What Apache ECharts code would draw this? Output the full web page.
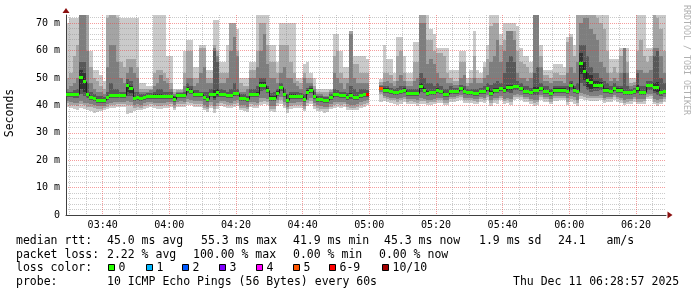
<!DOCTYPE html>
<html><head><meta charset="utf-8">
<script src="https://cdn.jsdelivr.net/npm/echarts@6/dist/echarts.min.js"></script>
<style>html,body{margin:0;padding:0;background:#fff}#c{width:697px;height:297px}</style>
</head><body><div id="c"></div>
<script>
// time axis in minutes after 03:00; first column starts 03:29, one column per minute
const startMinute = 29;
const axisMin = 29, axisMax = 209;
const xTickMinutes = [40, 60, 80, 100, 120, 140, 160, 180, 200];
const xTickLabels = ['03:40','04:00','04:20','04:40','05:00','05:20','05:40','06:00','06:20'];
const yTickValues = [0, 10, 20, 30, 40, 50, 60, 70];
const yTickLabels = ['0','10 m','20 m','30 m','40 m','50 m','60 m','70 m'];

// median RTT (ms) per minute
const median = [
44,44,44,44,50.3,49,44,43.2,42.8,42,
42,42,43,43.7,43.7,43.7,43.7,43.7,47.6,46.4,
42.6,43,42.6,43,43.5,43.5,43.5,43.5,43.5,43.5,
43.5,43.5,42.5,43.7,43.7,43.7,46.1,45.4,44.2,44.2,
44.2,43,42.3,44,44,45,44.2,44.2,43.7,43.7,
44.5,44.5,42.8,42.8,42.2,44.2,44.2,44.2,47.6,47.6,
45.8,42.8,42.8,44.6,46.6,44.2,41.9,43.6,43.6,43.6,
43.6,42.3,45,45.8,43.4,42.3,42.3,41.9,41.9,43,
44,44,43.7,43.7,43,43.7,43,43,43.7,44.2,
44.2,null,null,null,46.4,45.8,45.8,45.4,44.9,44.9,
45.4,45.8,44.6,44.6,44.6,44.6,47,45.8,44.6,44.9,
44.9,45.8,45.2,44.2,44.2,45.2,45.2,45.4,46.4,45.4,
44.9,44.9,44.6,44.6,45.2,45.2,46.4,44.6,45.8,45.8,
46.4,45.8,46.6,46.6,47,47,46.4,45.4,45.4,44.9,
45.8,45.8,46.4,45.4,45.4,44.6,45.8,45.8,45.8,45.8,
45.4,47.3,45.8,45.2,55.3,52.6,49.4,48.5,47.6,47.6,
47.6,45.8,45.8,45.4,46.4,45.8,45.8,44.9,44.9,44.9,
45.4,46.4,44.9,44.9,47.3,47.3,46.6,46.6,44.9,45.3];

// sorted ping RTTs (ms): ping1 = fastest ... ping10 = slowest
const ping1 = [
39.6,39,38.8,38.4,39,38.6,38.2,37.8,37.4,37.6,
38,38.2,38.6,39,39.2,39.4,39.6,39.4,37,37.4,
38,38.4,38.2,38.8,39.2,39.4,39,38.8,38.6,39,
39.2,39.4,38.2,39.4,39.6,39.4,40.2,40,39.6,39.6,
39.6,38.2,37.6,39.2,37.4,38.8,39.8,39.6,39.2,39,
39.6,39.8,38.2,38,37.6,39.4,39.2,39,40.2,40.4,
40,37.8,37.6,39.8,40.6,39.2,37.4,38.8,39,39.2,
39.2,37.8,39.8,40.6,38.8,38,37.8,37.4,37.6,38.6,
39.2,39.4,39.2,39.4,38.4,38.2,38.2,38.4,39.2,39.6,
40,null,null,null,41.2,41.6,41.4,41,40.6,40.2,
40.6,41.2,40.4,40.6,40.4,39.8,40.4,40.6,40,40.2,
40.4,41,40.8,40,40,41.2,41.4,41.6,42,41,
40.8,40.8,40.6,40.4,41.2,41,42,39.8,40.8,40.6,
41.8,40.6,41,40.2,42,42.2,42,41.2,41.2,40.6,
39.8,40,42,41.2,41.2,40.4,41.6,41.6,41.8,41.8,
40,41.2,40.6,39.8,42.4,42,41.8,41.6,41.6,41.6,
41.8,41,41.4,41.2,42,41.4,40.8,40,40.4,40.6,
41.2,40.4,40.4,40.6,42.2,42.4,40.4,39.8,40.4,41.2];
const ping2 = [
40.8,40.2,40,39.8,40.4,40,39.6,39.4,39,38.6,
38.8,39,39.6,40,40.2,40.4,40.6,40.4,40.2,40,
39.2,39.4,39.2,39.8,40.2,40.4,40,39.8,39.8,40,
40.2,40.4,39.2,40.4,40.6,40.6,41.2,41,40.6,40.6,
40.6,39.2,38.6,40.2,38.6,39.8,40.8,40.6,40.2,40,
40.6,40.8,39.2,39,38.6,40.4,40.2,40,41.4,41.6,
41.2,38.8,38.8,40.8,41.8,40.2,38.6,39.8,40,40.2,
40.2,38.8,40.8,41.6,39.8,39,38.8,38.6,38.6,39.6,
40.2,40.4,40.2,40.4,39.4,39.2,39.2,39.4,40.2,40.6,
41,null,null,null,44,42.6,42.4,42,41.8,41.4,
41.8,42.2,41.4,41.6,41.4,41,41.6,41.6,41,41.2,
41.4,42,41.8,41,41,42.2,42.4,42.6,43,42,
41.8,41.8,41.6,41.4,42.2,42,43,41,42,41.8,
42.8,41.6,42,41.4,43,43.2,43,42.2,42.2,41.6,
41,41.2,43,42.2,42.2,41.4,42.6,42.6,42.8,42.8,
41.4,42.4,42,41,43.4,43,42.8,42.6,42.6,42.6,
42.8,42,42.4,42.2,43,42.4,41.8,41,41.4,41.6,
42.2,41.4,41.4,41.6,43.2,43.4,41.4,40.8,41.4,42.2];
const ping3 = [
41.6,41.2,41,40.8,41.6,41,40.8,40.6,40.2,39.8,
39.8,39.8,40.6,41,41.2,41.4,41.4,41.4,41.6,41.2,
40.2,40.4,40.2,40.8,41.2,41.4,41,40.8,40.8,41,
41.2,41.2,40.2,41.4,41.6,41.4,42.4,42,41.6,41.6,
41.6,40.2,39.6,41.2,39.8,40.8,41.6,41.6,41.2,41,
41.6,41.8,40.2,40,39.6,41.4,41.2,41,42.6,42.8,
42.4,39.8,39.8,41.8,43,41.2,39.6,40.8,41,41.2,
41.2,39.8,41.8,42.6,40.8,40,39.8,39.6,39.6,40.6,
41.2,41.4,41.2,41.4,40.4,40.2,40.2,40.4,41.2,41.6,
42,null,null,null,45,43.4,43.2,42.8,42.6,42.2,
42.6,43,42.2,42.4,42.2,42,42.6,42.4,41.8,42,
42.2,42.8,42.6,41.8,41.8,43,43.2,43.4,43.8,42.8,
42.6,42.6,42.4,42.2,43,42.8,43.8,41.8,42.8,42.6,
43.6,42.4,42.8,42.2,43.8,44,43.8,43,43,42.4,
41.8,42,43.8,43,43,42.2,43.4,43.4,43.6,43.6,
42.6,43.6,43.2,42,44.6,44,43.8,43.6,43.6,43.6,
43.8,42.8,43.2,43,43.8,43.2,42.6,41.8,42.2,42.4,
43,42.4,42.2,42.4,44,44.2,42.4,41.8,42.2,43];
const ping4 = [
42.9,42.9,42.8,42.7,44,43.5,42.8,42.1,41.7,40.9,
40.9,40.9,41.9,42.6,42.6,42.6,42.6,42.6,43.5,43.4,
41.5,41.9,41.5,41.9,42.4,42.4,42.4,42.3,42.3,42.4,
42.4,42.4,41.4,42.6,42.6,42.6,44.6,44.2,43.1,43.1,
43.1,41.9,41.2,42.9,41.8,42.9,43.1,43.1,42.6,42.6,
43.4,43.4,41.7,41.7,41.1,43.1,43.1,43,45.4,45.6,
44.6,41.7,41.7,43.5,45.4,43.1,40.8,42.5,42.5,42.5,
42.5,41.2,43.8,44.6,42.3,41.2,41.2,40.8,40.8,41.9,
42.9,42.9,42.6,42.6,41.9,42.4,41.9,41.9,42.6,43.1,
43.1,null,null,null,45.6,44.7,44.7,44.3,43.8,43.8,
44.3,44.7,43.5,43.5,43.5,43.5,45,44.5,43.4,43.8,
43.8,44.6,44.1,43.1,43.1,44.1,44.1,44.3,45.2,44.3,
43.8,43.8,43.5,43.5,44.1,44.1,45.2,43.4,44.6,44.5,
45.2,44.5,45,44.6,45.6,45.8,45.2,44.3,44.3,43.8,
43.8,43.9,45.2,44.3,44.3,43.5,44.7,44.7,44.7,44.7,
44.3,45.6,44.7,44.1,48,47,45.6,45,45.2,45.2,
45.6,44.7,44.7,44.3,45.2,44.7,44.5,43.7,43.8,43.8,
44.3,44.6,43.8,43.8,45.8,45.8,44.4,43.8,43.6,44.2];
const ping5 = [
43.6,43.6,43.6,43.5,46,45,43.5,42.8,42.4,41.6,
41.6,41.6,42.6,43.3,43.3,43.3,43.3,43.3,44.8,44.6,
42.2,42.6,42.2,42.6,43.1,43.1,43.1,43,43,43.1,
43.1,43.1,42.1,43.3,43.3,43.2,45.4,44.9,43.8,43.8,
43.8,42.6,41.9,43.5,42.8,43.8,43.8,43.8,43.3,43.3,
44,44.1,42.4,42.4,41.8,43.8,43.8,43.6,46.6,46.6,
45.3,42.4,42.4,44.1,46.1,43.7,41.5,43.2,43.2,43.3,
43.3,41.9,44.5,45.4,43,41.9,41.9,41.5,41.5,42.6,
43.5,43.6,43.3,43.3,42.6,43,42.6,42.6,43.3,43.8,
43.8,null,null,null,46.1,45.4,45.4,45,44.5,44.5,
45,45.4,44.2,44.2,44.2,44.2,46,45.2,44.1,44.5,
44.5,45.3,44.8,43.8,43.8,44.8,44.8,45,46,45,
44.5,44.5,44.2,44.2,44.8,44.8,46,44.1,45.3,45.2,
46,45.2,45.8,45.6,46.4,46.5,46,45,45,44.5,
44.8,44.8,46,45,45,44.2,45.4,45.4,45.4,45.4,
45,46.6,45.4,44.8,51.6,49.2,46.8,46,46.2,46.2,
46.8,45.4,45.4,45,46,45.4,45.3,44.4,44.5,44.5,
45,45.4,44.5,44.5,46.8,46.8,45.2,44.8,44.4,44.9];
const ping6 = [
44.4,44.4,44.5,44.6,53,52,44.6,43.6,43.2,42.4,
42.4,42.4,43.4,44.3,44.1,44.1,44,44,48.2,47,
43,43.4,43,43.4,43.9,43.9,44,44,44.1,43.9,
43.9,43.9,42.9,44.1,44.1,44.2,46.6,45.9,44.6,44.6,
44.6,43.5,42.8,44.5,45.5,46,44.6,44.6,44.1,44.2,
45,44.9,43.2,43.2,42.6,44.6,44.7,44.8,48.4,48.4,
46.3,43.3,43.3,45.1,47.1,44.7,42.3,44,44,43.9,
43.9,42.7,45.5,46.2,43.8,42.7,42.7,42.3,42.3,43.4,
44.5,44.4,44.1,44.1,43.4,44.5,43.4,43.4,44.1,44.6,
44.6,null,null,null,46.7,46.2,46.2,45.8,45.3,45.3,
45.8,46.2,45,45,45,45,48,46.4,45.1,45.4,
45.4,46.3,45.6,44.6,44.6,45.6,45.6,45.8,46.8,45.8,
45.3,45.3,45,45,45.6,45.6,46.8,45.1,46.3,46.4,
46.8,46.4,47.4,47.6,47.6,47.5,46.8,45.8,45.8,45.3,
46.8,46.8,46.8,45.8,45.8,45,46.2,46.2,46.2,46.2,
45.8,48,46.2,45.6,59,56,52,51,49,49,
48.4,46.2,46.2,45.8,46.8,46.2,46.3,45.4,45.3,45.3,
45.8,47.4,45.3,45.3,47.8,47.8,48,48.4,45.4,45.7];
const ping7 = [
45,45,45.5,46,56,56,48,45,44,43.5,
43.5,43,45,48,46,46,45,45,49.5,49,
45,45,44,44,44.5,44.5,45,46,46,45,
45,45,43.5,44.5,44.5,45,48,47,45.5,45.5,
45,45,45,46,60,56,46,45.5,45,46,
48,46,44,44,43.5,46,46,47,50,50,
47,44.5,45,46,48,46,44,45,45,45,
44.5,44,46.5,47,45,43.5,43.5,43,43,44,
46,45.5,45,45,44.5,47,46,45,46,46,
45.5,null,null,null,47,47,47,46.5,46,46.5,
47,47,46,46,46,46,52,50,48,48,
47,48,47,46,46,47,46.5,46.5,47.5,47,
46,46,46,46,46.5,47,48,47.5,48,49,
48,52,56,58,56,49,48,47,47,46.5,
52,54,48,47,47,46,47,47,47,47,
47,49,47,48,62,62,58,54,52,52,
50,49,48,47,48,47,47,52,47,46,
46.5,52,47,47,49,49,58,60,50,48];
const ping8 = [
46,47,48,50,74,74,60,48,46,45,
45,44,54,62,62,56,50,48,52,54,
52,50,45,45,45,45.5,47,48,51,49,
48,46,44,45,45,47,50,50,47,48,
52,54,48,48,61,58,48,48,50,60,
65,58,45,45,46,50,50,54,60,66,
55,50,50,48,52,54,50,50,48,47,
46,50,48,48,46,44,44,43.5,43.5,45,
52,50,48,46,48,66,50,48,48,48,
48,null,null,null,47.5,48.5,49,48,47,49,
51,49,47,47,49,50,70,70,55,57,
55,52,50,50,48,48,47.5,47.5,50,51,
47,48,50,48,48,50,51,56,58,64,
56,60,67,67,64,52,50,50,49,50,
74,74,54,49,49,48,49,49,49,48,
52,54,52,56,70,72,72,68,66,64,
56,54,52,49,50,49,52,61,52,47,
47.5,53,53,52,52,53,61,61,58,52];
const ping9 = [
50,52,58,62,76,76,74,54,50,49,
47,46,72,74,74,72,56,54,57,57,
57,54,46,46,46,46,52,53,53,52,
50,48,45,45.5,45.5,52,60,60,50,50,
61,61,50,50,62,60,52,52,52,70,
70,60,48,47,47,53,53,60,70,70,
62,56,56,52,62,62,62,56,52,49,
48,52,50,50,47,45,45,45,45,45.5,
58,60,52,50,50,67,55,55,52,52,
52,null,null,null,48.5,52,52,51,49,58,
60,52,49,49,56,56,76,76,64,64,
60,59,59,58,52,50,49,49,56,56,
48,50,58,50,50,54,57,69,70,70,
62,64,67,67,67,60,56,55,54,52,
74,74,58,51,51,50,52,52,51,51,
63,65,58,74,76,76,76,76,74,72,
70,68,60,52,54,52,58,61,56,48,
48.5,60,64,58,56,58,76,72,68,60];
const ping10 = [
70,72,72,72,76,76,76,60,53,53,
51,49,74,76,76,76,72,72,72,72,
72,72,48,48,47,47,76,76,76,76,
58,58,46,46,46,60,64,64,54,54,
62,62,53,53,71,71,56,56,62,70,
70,68,50,50,50,56,56,74,76,76,
76,62,62,56,70,70,70,70,70,50,
50,55,56,52,50,46,46,46,46,46,
66,66,60,54,54,67,58,58,58,58,
57,null,null,null,49.5,62,57,57,52,65,
65,58,52,52,63,63,76,76,76,68,
66,61,61,61,61,53,53,53,60,60,
50,53,67,53,52,56,62,76,76,76,
66,70,70,70,70,69,61,58,58,56,
76,76,62,53,53,53,55,55,55,54,
65,66,62,76,76,76,76,76,76,76,
76,76,74,57,57,57,61,61,61,50,
50,76,76,76,61,61,76,76,76,76];

// columns with packet loss (index into lossColors); all others are 0 loss
const lossCols = [90, 94];
const lossLevel = [6, 5];
const lossNames = ['0','1','2','3','4','5','6-9','10/10'];
const lossColors = ['#26ff00','#00b8ff','#0059ff','#7e00ff','#ff00ff','#ff5500','#ff0000','#a10000'];

const rttLabel = 'median rtt:';
const rttStats = ['45.0 ms avg','55.3 ms max','41.9 ms min','45.3 ms now','1.9 ms sd','24.1   am/s'];
const lossLabel = 'packet loss:';
const lossStats = ['2.22 % avg','100.00 % max','0.00 % min','0.00 % now'];
const probeLabel = 'probe:';
const probeText = '10 ICMP Echo Pings (56 Bytes) every 60s';
const stampText = 'Thu Dec 11 06:28:57 2025';

// ---------- drawing ----------
const MONO = '"DejaVu Sans Mono", "Liberation Mono", monospace';
const MAJ = 'rgba(235,60,60,0.5)';
const MIN = 'rgba(140,140,140,0.45)';
const NONE = 'rgba(0,0,0,0)';
const bandColors = ['#cacaca','#a4a4a4','#7e7e7e','#585858','#323232'];

const rows = [];
for (let k = 0; k < median.length; k++) {
  if (median[k] === null) continue;
  rows.push([startMinute + k, ping1[k], ping2[k], ping3[k], ping4[k], ping5[k],
             ping6[k], ping7[k], ping8[k], ping9[k], ping10[k], median[k], k]);
}
function colX(api, t) { return Math.round(api.coord([t, 0])[0]); }
function valY(api, t, v) { return Math.round(api.coord([t, v])[1]); }

function renderSmoke(params, api) {
  const t = api.value(0);
  const x0 = colX(api, t), x1 = colX(api, t + 1);
  const top = params.coordSys.y;
  const children = [];
  for (let b = 0; b < 5; b++) {
    const lo = api.value(1 + b), hi = api.value(10 - b);
    const yLo = valY(api, t, lo);
    const yHi = Math.max(top, valY(api, t, hi));
    children.push({type: 'rect', shape: {x: x0, y: Math.min(yHi, yLo), width: x1 - x0, height: Math.abs(yLo - yHi)},
      style: {fill: bandColors[b]}});
  }
  return {type: 'group', children: children};
}
function renderMedian(params, api) {
  const t = api.value(0), m = api.value(11), k = api.value(12);
  const x0 = colX(api, t), x1 = colX(api, t + 1);
  const y = valY(api, t, m) + 0.5;
  const ch = [{type: 'line', shape: {x1: x0, y1: y, x2: x1, y2: y}, style: {stroke: '#202020', lineWidth: 1}}];
  const prev = k > 0 ? median[k - 1] : null;
  if (prev !== null) {
    const yp = valY(api, t, prev) + 0.5;
    ch.push({type: 'line', shape: {x1: x0 + 0.5, y1: yp, x2: x0 + 0.5, y2: y}, style: {stroke: '#202020', lineWidth: 1}});
  }
  return {type: 'group', children: ch};
}
function renderLoss(params, api) {
  const t = api.value(0), m = api.value(11), k = api.value(12);
  const x0 = colX(api, t), x1 = colX(api, t + 1);
  const y = valY(api, t, m);
  const li = lossCols.indexOf(k);
  return {type: 'rect', shape: {x: x0, y: y - 1, width: x1 - x0, height: 3},
    style: {fill: lossColors[li >= 0 ? lossLevel[li] : 0]}};
}

const xLineColors = [];
for (let j = 0; j < 20; j++) {
  const v = (axisMin + j) % 20;
  xLineColors.push(v === 0 ? MAJ : (v % 5 === 0 ? MIN : NONE));
}

const textStyle = (s, extra) => Object.assign({text: s, font: '11.5px ' + MONO, fill: '#000',
  align: 'left', verticalAlign: 'middle'}, extra || {});
const graphics = [];
function addText(x, y, s) { graphics.push({type: 'text', x: x, y: y, style: textStyle(s), silent: true}); }
const L1 = 241, L2 = 255, L3 = 268.5, L4 = 282.5;
addText(16, L1, rttLabel);
[107, 201, 293, 384, 479, 558].forEach((x, i) => addText(x, L1, rttStats[i]));
addText(16, L2, lossLabel);
[107, 193, 293, 379].forEach((x, i) => addText(x, L2, lossStats[i]));
addText(16, L3, 'loss color:');
const boxX = [108, 145.5, 182.3, 219.3, 256, 292.7, 329.3, 381.7];
lossNames.forEach((n, i) => {
  graphics.push({type: 'rect', shape: {x: Math.round(boxX[i]) + 0.5, y: 264.5, width: 6, height: 6},
    style: {fill: lossColors[i], stroke: '#000', lineWidth: 1}, silent: true});
  addText(Math.round(boxX[i]) + 10.5, L3, n);
});
addText(16, L4, probeLabel);
addText(107, L4, probeText);
addText(513, L4, stampText);
graphics.push({type: 'text', x: 10.5, y: 113, rotation: Math.PI / 2,
  style: textStyle('Seconds', {align: 'center'}), silent: true});
graphics.push({type: 'text', x: 686, y: 60, rotation: -Math.PI / 2,
  style: textStyle('RRDTOOL / TOBI OETIKER', {align: 'center', font: '8.3px ' + MONO, fill: '#b0b0b0'}), silent: true});

const chart = echarts.init(document.getElementById('c'), null, {renderer: 'canvas'});
chart.setOption({
  animation: false,
  backgroundColor: '#ffffff',
  grid: {left: 66, right: 31, top: 15, bottom: 82, containLabel: false, outerBoundsMode: 'none'},
  xAxis: [{
    type: 'value', min: axisMin, max: axisMax, interval: 1, z: 3,
    axisLine: {show: true, onZero: false, lineStyle: {color: '#404040', width: 1}},
    axisTick: {show: false},
    axisLabel: {
      formatter: v => { const i = xTickMinutes.indexOf(v); return i >= 0 ? xTickLabels[i] : ''; },
      fontFamily: MONO, fontSize: 10, color: '#000', margin: 5, showMinLabel: true, showMaxLabel: true
    },
    splitLine: {show: true, lineStyle: {color: xLineColors, type: [1, 1], width: 1}}
  }, {
    type: 'value', min: axisMin, max: axisMax, position: 'bottom', z: 4,
    axisLine: {show: true, onZero: false, symbol: ['none', 'triangle'], symbolSize: [7, 5], symbolOffset: [0, 4],
      lineStyle: {color: '#8b1010', width: 0}},
    axisTick: {show: false}, axisLabel: {show: false}, splitLine: {show: false}
  }],
  yAxis: [{
    type: 'value', min: 0, max: 73, interval: 2, z: 3,
    axisLine: {show: true, onZero: false, lineStyle: {color: '#404040', width: 1}},
    axisTick: {show: false},
    axisLabel: {
      formatter: v => { const i = yTickValues.indexOf(v); return i >= 0 ? yTickLabels[i] : ''; },
      fontFamily: MONO, fontSize: 10, color: '#000', margin: 6, showMaxLabel: false
    },
    splitLine: {show: true, showMaxLine: false, lineStyle: {color: [MAJ, MIN, MIN, MIN, MIN], type: [1, 1], width: 1}}
  }, {
    type: 'value', min: 0, max: 73, position: 'left', z: 4,
    axisLine: {show: true, onZero: false, symbol: ['none', 'triangle'], symbolSize: [7, 5], symbolOffset: [0, 4.5],
      lineStyle: {color: '#8b1010', width: 0}},
    axisTick: {show: false}, axisLabel: {show: false}, splitLine: {show: false}
  }],
  series: [
    {type: 'custom', renderItem: renderSmoke, data: rows, encode: {x: 0, y: 11}, z: 1, silent: true, clip: true},
    {type: 'custom', renderItem: renderMedian, data: rows, encode: {x: 0, y: 11}, z: 5, silent: true},
    {type: 'custom', renderItem: renderLoss, data: rows, encode: {x: 0, y: 11}, z: 6, silent: true}
  ],
  graphic: graphics
});
</script></body></html>
